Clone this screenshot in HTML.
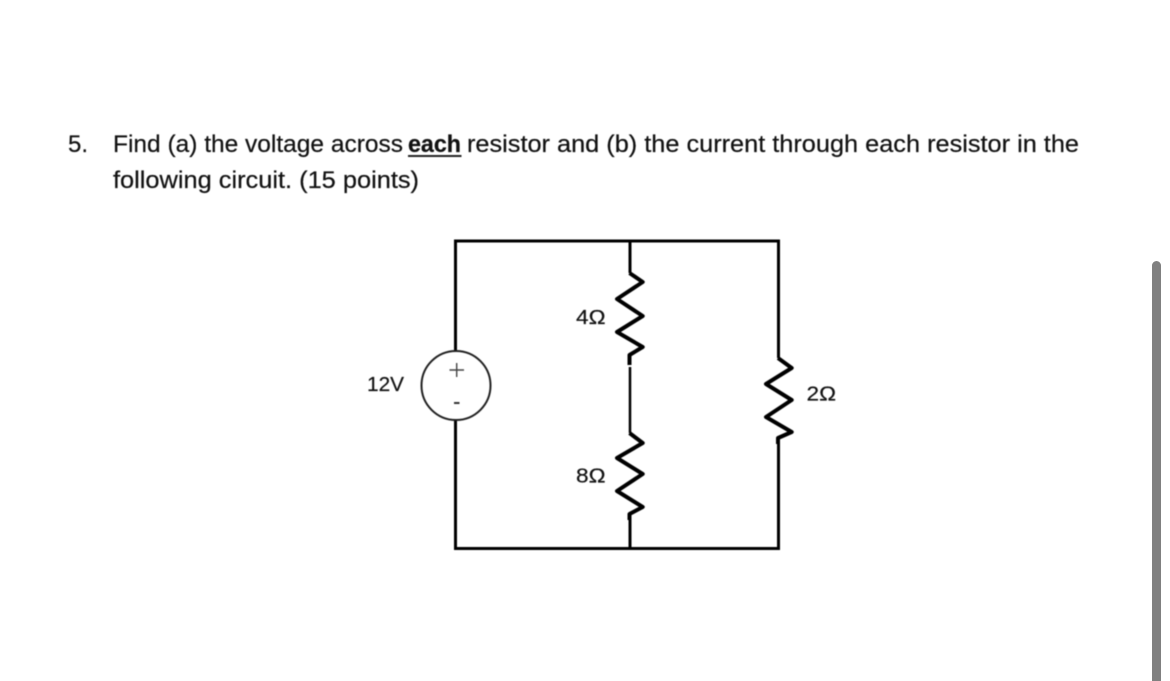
<!DOCTYPE html>
<html>
<head>
<meta charset="utf-8">
<style>
html,body{margin:0;padding:0;background:#fff;width:1170px;height:681px;overflow:hidden}
svg{display:block}
text{font-family:"Liberation Sans",sans-serif;fill:#111;stroke:#111;stroke-width:0.2px}
.soft{filter:blur(0.45px)}
</style>
</head>
<body>
<svg width="1170" height="681" viewBox="0 0 1170 681" xmlns="http://www.w3.org/2000/svg">
<rect width="1170" height="681" fill="#fff"/>
<g class="soft">
<text x="68" y="152" font-size="24" textLength="20" lengthAdjust="spacingAndGlyphs">5.</text>
<text x="113" y="152" font-size="24" textLength="290" lengthAdjust="spacingAndGlyphs">Find (a) the voltage across</text>
<text x="408" y="152" font-size="24" font-weight="bold" textLength="53" lengthAdjust="spacingAndGlyphs">each</text>
<rect x="408" y="155" width="53.5" height="2" fill="#222"/>
<text x="467" y="152" font-size="24" textLength="612" lengthAdjust="spacingAndGlyphs">resistor and (b) the current through each resistor in the</text>
<text x="113" y="188" font-size="24" textLength="306" lengthAdjust="spacingAndGlyphs">following circuit. (15 points)</text>

<g fill="none" stroke="#000" stroke-linejoin="miter">
<path d="M455.5 351V241H778.5V358" stroke-width="3"/>
<path d="M455.5 420V548.5H778.5V438" stroke-width="3"/>
<path d="M630 241V273" stroke-width="3"/>
<path d="M630 367V433" stroke-width="2.5"/>
<path d="M630 514V548" stroke-width="3"/>
<g stroke-width="4" stroke-linejoin="round">
<path d="M629.5 273L642.7 282L617 299L642.7 316L617 332L642.7 347L629.5 355V365"/>
<path d="M629.5 433L642.7 443L617 458L642.7 474L617 491L642.7 507L629.5 514V520"/>
<path d="M778 358L791.7 368L766 384L791.7 400L766 417L791.7 432L778 438V444"/>
</g>
<circle cx="456" cy="385.5" r="34.5" stroke="#222" stroke-width="2"/>
</g>
<path d="M449.5 370H464M456.7 363V377" stroke="#444" stroke-width="1.4" fill="none"/>
<rect x="454" y="402" width="5.5" height="2" fill="#333"/>

<text x="367" y="391" font-size="20" textLength="37" lengthAdjust="spacingAndGlyphs">12V</text>
<text x="576" y="324" font-size="20" textLength="29.5" lengthAdjust="spacingAndGlyphs">4Ω</text>
<text x="576" y="482.5" font-size="20" textLength="29.5" lengthAdjust="spacingAndGlyphs">8Ω</text>
<text x="806.5" y="400.5" font-size="20" textLength="29.5" lengthAdjust="spacingAndGlyphs">2Ω</text>
</g>
<rect x="1152" y="261" width="9" height="430" rx="4.5" fill="#808080"/>
</svg>
</body>
</html>
